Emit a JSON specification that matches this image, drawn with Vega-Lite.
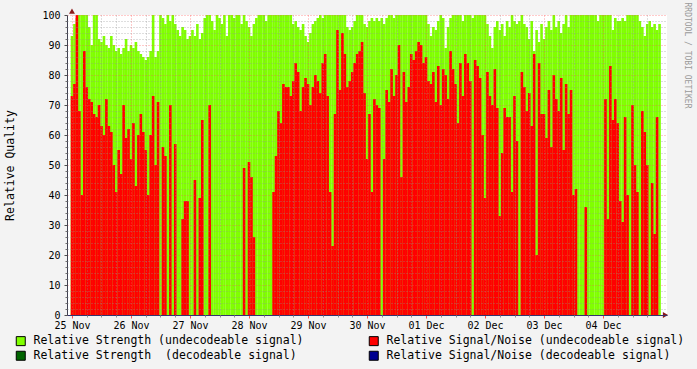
{
"$schema": "https://vega.github.io/schema/vega-lite/v6.json",
"width": 600, "height": 300,
"autosize": "none",
"padding": {"left": 67, "top": 15, "right": 30, "bottom": 54},
"background": "#f3f3f3",
"config": {"font": "DejaVu Sans Mono", "view": {"fill": "#ffffff", "stroke": null}},
"title": {"text": "RRDTOOL / TOBI OETIKER", "orient": "right", "anchor": "start", "fontSize": 8, "font": "DejaVu Sans Mono", "fontWeight": "normal", "color": "#9a9a9a", "offset": -2, "dx": -6},
"data": {"values": [
{"h":0,"s":93,"n":73},{"h":1,"s":97,"n":77},{"h":2,"s":99,"n":100},{"h":3,"s":100,"n":68},{"h":4,"s":100,"n":40},{"h":5,"s":100,"n":88},{"h":6,"s":100,"n":76},{"h":7,"s":96,"n":72},{"h":8,"s":90,"n":71},{"h":9,"s":100,"n":67},
{"h":10,"s":100,"n":66},{"h":11,"s":92,"n":70},{"h":12,"s":91,"n":63},{"h":13,"s":93,"n":60},{"h":14,"s":90,"n":72},{"h":15,"s":89,"n":63},{"h":16,"s":93,"n":61},{"h":17,"s":90,"n":50},{"h":18,"s":88,"n":41},{"h":19,"s":89,"n":55},
{"h":20,"s":87,"n":47},{"h":21,"s":89,"n":70},{"h":22,"s":92,"n":59},{"h":23,"s":88,"n":62},{"h":24,"s":90,"n":52},{"h":25,"s":89,"n":64},{"h":26,"s":91,"n":43},{"h":27,"s":88,"n":60},{"h":28,"s":87,"n":67},{"h":29,"s":86,"n":61},
{"h":30,"s":85,"n":55},{"h":31,"s":86,"n":40},{"h":32,"s":88,"n":60},{"h":33,"s":100,"n":73},{"h":34,"s":86,"n":50},{"h":35,"s":88,"n":71},{"h":36,"s":100,"n":0},{"h":37,"s":99,"n":56},{"h":38,"s":97,"n":53},{"h":39,"s":100,"n":0},
{"h":40,"s":98,"n":70},{"h":41,"s":100,"n":0},{"h":42,"s":97,"n":57},{"h":43,"s":95,"n":0},{"h":44,"s":93,"n":0},{"h":45,"s":96,"n":32},{"h":46,"s":95,"n":38},{"h":47,"s":92,"n":38},{"h":48,"s":93,"n":0},{"h":49,"s":95,"n":0},
{"h":50,"s":93,"n":45},{"h":51,"s":97,"n":0},{"h":52,"s":92,"n":39},{"h":53,"s":94,"n":65},{"h":54,"s":99,"n":0},{"h":55,"s":100,"n":0},{"h":56,"s":100,"n":70},{"h":57,"s":98,"n":0},{"h":58,"s":95,"n":0},{"h":59,"s":100,"n":0},
{"h":60,"s":99,"n":0},{"h":61,"s":97,"n":0},{"h":62,"s":100,"n":0},{"h":63,"s":93,"n":0},{"h":64,"s":100,"n":0},{"h":65,"s":100,"n":0},{"h":66,"s":99,"n":0},{"h":67,"s":100,"n":0},{"h":68,"s":100,"n":0},{"h":69,"s":97,"n":0},
{"h":70,"s":100,"n":49},{"h":71,"s":98,"n":0},{"h":72,"s":96,"n":51},{"h":73,"s":93,"n":46},{"h":74,"s":97,"n":26},{"h":75,"s":99,"n":0},{"h":76,"s":100,"n":0},{"h":77,"s":100,"n":0},{"h":78,"s":100,"n":0},{"h":79,"s":98,"n":0},
{"h":80,"s":100,"n":0},{"h":81,"s":100,"n":0},{"h":82,"s":100,"n":41},{"h":83,"s":100,"n":53},{"h":84,"s":100,"n":68},{"h":85,"s":100,"n":64},{"h":86,"s":100,"n":77},{"h":87,"s":100,"n":76},{"h":88,"s":100,"n":76},{"h":89,"s":100,"n":73},
{"h":90,"s":97,"n":78},{"h":91,"s":98,"n":84},{"h":92,"s":96,"n":81},{"h":93,"s":95,"n":68},{"h":94,"s":97,"n":76},{"h":95,"s":93,"n":79},{"h":96,"s":91,"n":77},{"h":97,"s":94,"n":70},{"h":98,"s":97,"n":76},{"h":99,"s":98,"n":80},
{"h":100,"s":99,"n":78},{"h":101,"s":100,"n":74},{"h":102,"s":99,"n":84},{"h":103,"s":100,"n":87},{"h":104,"s":100,"n":73},{"h":105,"s":100,"n":41},{"h":106,"s":100,"n":23},{"h":107,"s":100,"n":67},{"h":108,"s":100,"n":95},{"h":109,"s":100,"n":75},
{"h":110,"s":100,"n":94},{"h":111,"s":100,"n":87},{"h":112,"s":96,"n":76},{"h":113,"s":95,"n":78},{"h":114,"s":96,"n":81},{"h":115,"s":98,"n":84},{"h":116,"s":100,"n":87},{"h":117,"s":100,"n":88},{"h":118,"s":100,"n":91},{"h":119,"s":97,"n":74},
{"h":120,"s":96,"n":52},{"h":121,"s":98,"n":67},{"h":122,"s":99,"n":41},{"h":123,"s":98,"n":72},{"h":124,"s":99,"n":70},{"h":125,"s":98,"n":69},{"h":126,"s":99,"n":0},{"h":127,"s":97,"n":52},{"h":128,"s":99,"n":75},{"h":129,"s":100,"n":71},
{"h":130,"s":100,"n":82},{"h":131,"s":99,"n":73},{"h":132,"s":100,"n":80},{"h":133,"s":100,"n":90},{"h":134,"s":100,"n":46},{"h":135,"s":100,"n":81},{"h":136,"s":100,"n":71},{"h":137,"s":100,"n":76},{"h":138,"s":100,"n":87},{"h":139,"s":100,"n":85},
{"h":140,"s":100,"n":88},{"h":141,"s":100,"n":91},{"h":142,"s":100,"n":90},{"h":143,"s":100,"n":84},{"h":144,"s":100,"n":86},{"h":145,"s":97,"n":78},{"h":146,"s":93,"n":77},{"h":147,"s":96,"n":81},{"h":148,"s":95,"n":71},{"h":149,"s":98,"n":83},
{"h":150,"s":100,"n":70},{"h":151,"s":99,"n":82},{"h":152,"s":89,"n":80},{"h":153,"s":96,"n":72},{"h":154,"s":99,"n":88},{"h":155,"s":100,"n":82},{"h":156,"s":100,"n":77},{"h":157,"s":100,"n":64},{"h":158,"s":100,"n":84},{"h":159,"s":98,"n":73},
{"h":160,"s":100,"n":87},{"h":161,"s":100,"n":84},{"h":162,"s":100,"n":78},{"h":163,"s":99,"n":0},{"h":164,"s":100,"n":85},{"h":165,"s":100,"n":83},{"h":166,"s":100,"n":79},{"h":167,"s":100,"n":60},{"h":168,"s":100,"n":39},{"h":169,"s":97,"n":81},
{"h":170,"s":93,"n":73},{"h":171,"s":89,"n":70},{"h":172,"s":96,"n":82},{"h":173,"s":98,"n":69},{"h":174,"s":95,"n":33},{"h":175,"s":97,"n":54},{"h":176,"s":93,"n":69},{"h":177,"s":98,"n":66},{"h":178,"s":96,"n":66},{"h":179,"s":100,"n":41},
{"h":180,"s":98,"n":73},{"h":181,"s":97,"n":58},{"h":182,"s":98,"n":0},{"h":183,"s":100,"n":81},{"h":184,"s":97,"n":76},{"h":185,"s":96,"n":68},{"h":186,"s":92,"n":74},{"h":187,"s":98,"n":63},{"h":188,"s":88,"n":87},{"h":189,"s":95,"n":20},
{"h":190,"s":91,"n":84},{"h":191,"s":97,"n":67},{"h":192,"s":92,"n":67},{"h":193,"s":96,"n":59},{"h":194,"s":98,"n":75},{"h":195,"s":95,"n":56},{"h":196,"s":100,"n":80},{"h":197,"s":96,"n":72},{"h":198,"s":98,"n":68},{"h":199,"s":94,"n":79},
{"h":200,"s":97,"n":55},{"h":201,"s":100,"n":77},{"h":202,"s":96,"n":67},{"h":203,"s":100,"n":75},{"h":204,"s":100,"n":40},{"h":205,"s":100,"n":42},{"h":206,"s":100,"n":0},{"h":207,"s":100,"n":0},{"h":208,"s":100,"n":0},{"h":209,"s":100,"n":36},
{"h":210,"s":100,"n":0},{"h":211,"s":100,"n":0},{"h":212,"s":100,"n":0},{"h":213,"s":100,"n":0},{"h":214,"s":98,"n":0},{"h":215,"s":100,"n":0},{"h":216,"s":100,"n":0},{"h":217,"s":100,"n":72},{"h":218,"s":100,"n":32},{"h":219,"s":100,"n":83},
{"h":220,"s":95,"n":65},{"h":221,"s":99,"n":72},{"h":222,"s":98,"n":64},{"h":223,"s":98,"n":38},{"h":224,"s":99,"n":31},{"h":225,"s":98,"n":66},{"h":226,"s":100,"n":40},{"h":227,"s":100,"n":0},{"h":228,"s":100,"n":70},{"h":229,"s":100,"n":50},
{"h":230,"s":100,"n":41},{"h":231,"s":98,"n":0},{"h":232,"s":96,"n":68},{"h":233,"s":93,"n":61},{"h":234,"s":97,"n":50},{"h":235,"s":98,"n":0},{"h":236,"s":96,"n":44},{"h":237,"s":97,"n":27},{"h":238,"s":95,"n":66},{"h":239,"s":97,"n":0}
]},
"layer": [
{
"mark": {"type": "bar", "size": 2.6, "clip": true},
"encoding": {
"x": {"field": "h", "type": "quantitative", "scale": {"domain": [0, 240], "nice": false, "zero": false},
 "axis": {"orient": "bottom", "values": [0,24,48,72,96,120,144,168,192,216], "labelExpr": "['25 Nov','26 Nov','27 Nov','28 Nov','29 Nov','30 Nov','01 Dec','02 Dec','03 Dec','04 Dec'][round(datum.value/24)]", "grid": true, "gridColor": "#ff5050", "gridOpacity": 0.6, "gridDash": [1, 2], "tickSize": 3, "tickColor": "#ff5050", "domainColor": "#34346e", "labelFontSize": 10, "labelColor": "#000000", "labelPadding": 2, "labelFlush": false, "labelOverlap": false, "title": null, "zindex": 1}},
"y": {"field": "s", "type": "quantitative", "stack": null, "scale": {"domain": [0, 100], "nice": false},
 "axis": {"orient": "left", "values": [0,10,20,30,40,50,60,70,80,90,100], "grid": true, "gridColor": "#ff5050", "gridOpacity": 0.6, "gridDash": [1, 2], "tickSize": 3, "tickColor": "#505050", "domainColor": "#404050", "labelFontSize": 10, "labelColor": "#000000", "labelPadding": 4, "title": "Relative Quality", "titleFontSize": 11.5, "titleFontWeight": "normal", "titleColor": "#000000", "titlePadding": 26, "zindex": 1}},
"color": {"datum": "Relative Strength (undecodeable signal)", "type": "nominal",
 "scale": {"domain": ["Relative Strength (undecodeable signal)", "Relative Strength\u00a0 (decodeable signal)", "Relative Signal/Noise (undecodeable signal)", "Relative Signal/Noise (decodeable signal)"], "range": ["#80ff00", "#006400", "#ff0000", "#000090"]},
 "legend": {"orient": "none", "legendX": -52, "legendY": 320, "columns": 2, "symbolType": "square", "symbolSize": 81, "symbolStrokeColor": "#000000", "symbolStrokeWidth": 1, "symbolOpacity": 1, "labelFont": "DejaVu Sans Mono", "labelFontSize": 11.5, "labelColor": "#000000", "labelOffset": 7, "labelLimit": 0, "columnPadding": 63, "rowPadding": 1, "padding": 0, "title": null}}
}
},
{
"mark": {"type": "bar", "size": 2.6, "clip": true},
"encoding": {
"x": {"field": "h", "type": "quantitative", "scale": {"domain": [0, 240], "nice": false, "zero": false},
 "axis": {"orient": "bottom", "values": [6,12,18,30,36,42,54,60,66,78,84,90,102,108,114,126,132,138,150,156,162,174,180,186,198,204,210,222,228,234], "labels": false, "domain": false, "grid": true, "gridColor": "#909090", "gridOpacity": 0.6, "gridDash": [1, 2], "tickSize": 2, "tickColor": "#909090", "title": null, "zindex": 1}},
"y": {"field": "n", "type": "quantitative", "stack": null, "scale": {"domain": [0, 100], "nice": false},
 "axis": {"orient": "left", "values": [2,4,6,8,12,14,16,18,22,24,26,28,32,34,36,38,42,44,46,48,52,54,56,58,62,64,66,68,72,74,76,78,82,84,86,88,92,94,96,98], "labels": false, "domain": false, "grid": true, "gridColor": "#909090", "gridOpacity": 0.6, "gridDash": [1, 2], "tickSize": 2, "tickColor": "#707070", "title": null, "zindex": 1}},
"color": {"datum": "Relative Signal/Noise (undecodeable signal)", "type": "nominal"}
}
},
{
"data": {"values": [{}]},
"mark": {"type": "point", "shape": "triangle-up", "filled": true, "size": 35, "color": "#8b1a1a", "opacity": 1, "clip": false},
"encoding": {
"x": {"datum": 0, "type": "quantitative", "scale": {"domain": [0, 240], "nice": false, "zero": false}, "axis": null},
"y": {"datum": 101.3, "type": "quantitative", "scale": {"domain": [0, 100], "nice": false}, "axis": null}
}
},
{
"data": {"values": [{}]},
"mark": {"type": "point", "shape": "triangle-right", "filled": true, "size": 35, "color": "#8b1a1a", "opacity": 1, "clip": false},
"encoding": {
"x": {"datum": 241.4, "type": "quantitative", "scale": {"domain": [0, 240], "nice": false, "zero": false}, "axis": null},
"y": {"datum": 0, "type": "quantitative", "scale": {"domain": [0, 100], "nice": false}, "axis": null}
}
}
],
"resolve": {"axis": {"x": "independent", "y": "independent"}}
}
